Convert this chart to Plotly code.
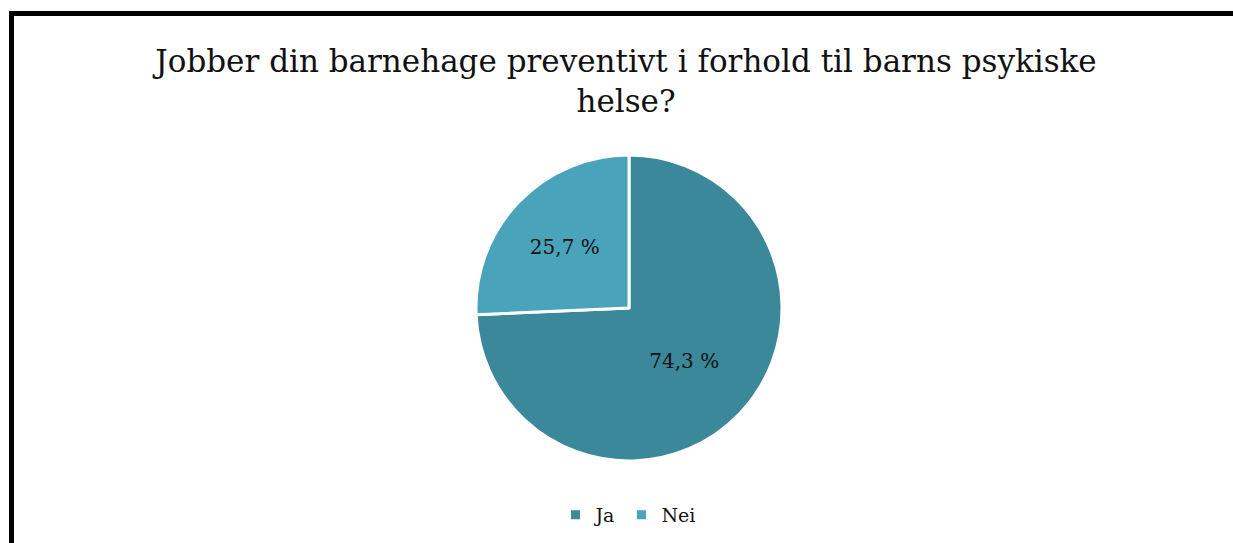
import plotly.graph_objects as go

# Survey answers (share of respondents, %)
labels = ["Ja", "Nei"]
shares = [74.3, 25.7]
colors = ["#3A889A", "#49A3BA"]
title_text = "Jobber din barnehage preventivt i forhold til barns psykiske<br>helse?"

W, H = 1233, 543
FONT = "DejaVu Serif"

# Norwegian formatting: decimal comma and a space before the percent sign
slice_text = [f"{v:.1f}".replace(".", ",") + " %" for v in shares]

cx, cy, r = 629, 308, 153

fig = go.Figure(
    go.Pie(
        labels=labels,
        values=shares,
        text=slice_text,
        textinfo="text",
        textposition="inside",
        insidetextorientation="horizontal",
        textfont=dict(family=FONT, size=20, color="#111111"),
        marker=dict(colors=colors, line=dict(color="white", width=3)),
        sort=False,
        direction="clockwise",
        rotation=0,
        hole=0,
        domain=dict(x=[(cx - r) / W, (cx + r) / W], y=[(H - cy - r) / H, (H - cy + r) / H]),
    )
)

fig.update_layout(
    width=W,
    height=H,
    margin=dict(l=0, r=0, t=0, b=0),
    paper_bgcolor="white",
    plot_bgcolor="white",
    title=dict(
        text=title_text,
        x=626 / W,
        xanchor="center",
        y=1 - 72 / H,
        yanchor="middle",
        font=dict(family=FONT, size=31, color="#111111"),
    ),
    showlegend=True,
    legend=dict(
        orientation="h",
        x=628 / W,
        xanchor="center",
        y=(H - 515) / H,
        yanchor="middle",
        font=dict(family=FONT, size=19, color="#111111"),
        itemwidth=30,
    ),
    shapes=[
        dict(type="line", xref="paper", yref="paper",
             x0=9 / W, x1=1.01, y0=1 - 13.5 / H, y1=1 - 13.5 / H,
             line=dict(color="black", width=5)),
        dict(type="line", xref="paper", yref="paper",
             x0=11.5 / W, x1=11.5 / W, y0=1 - 11 / H, y1=-0.01,
             line=dict(color="black", width=5)),
    ],
)

fig.write_html("out.html")
